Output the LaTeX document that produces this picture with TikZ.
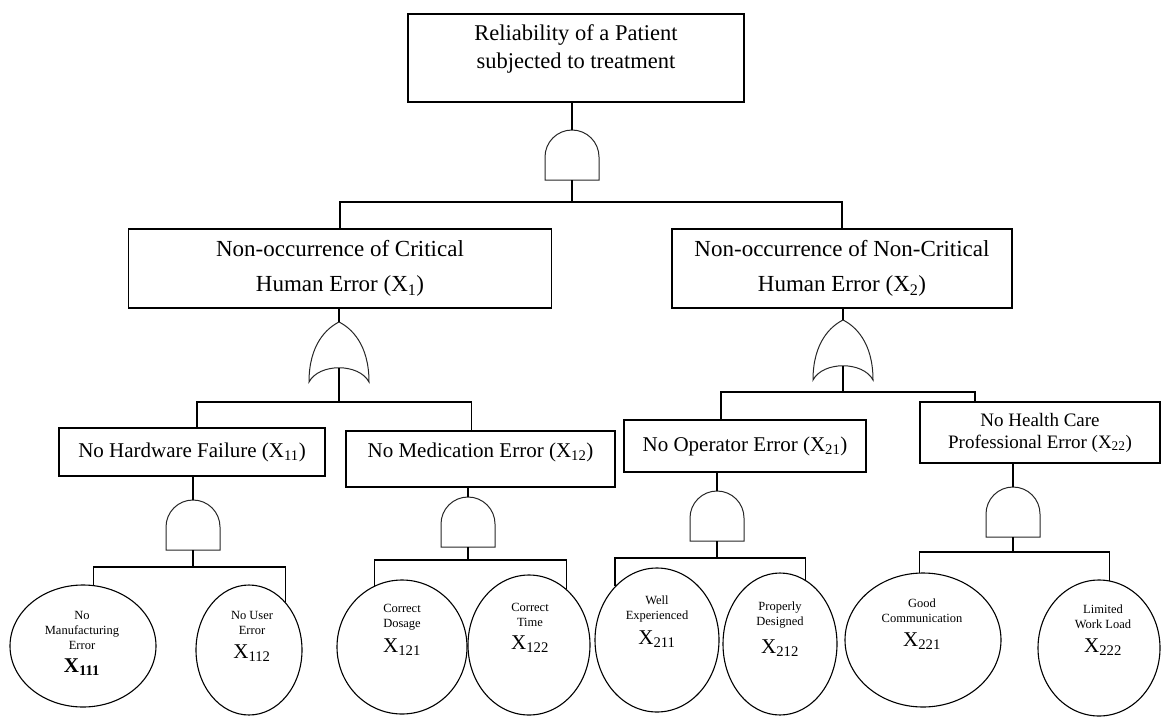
\documentclass[tikz,border=0pt]{standalone}
\usepackage{fontspec}
\setmainfont{Liberation Serif}
\usetikzlibrary{shapes.geometric}

\newcommand\fTop{\fontsize{22.5}{28}\selectfont}
\newcommand\fMid{\fontsize{23}{35}\selectfont}
\newcommand\fLow{\fontsize{21}{24}\selectfont}
\newcommand\fLeaf{\fontsize{12.5}{15}\selectfont}
\newcommand\fSym{\fontsize{21}{21}\selectfont}

\tikzset{
  evbox/.style={draw, line width=1.3pt, inner sep=0pt, align=center},
  basicev/.style={draw, ellipse, line width=1.1pt, inner sep=0pt},
  leaftext/.style={font=\fLeaf, align=center, inner sep=0pt},
  wire/.style={line width=1.1pt},
  gateline/.style={line width=1pt, black!85},
  andgate/.pic={
    \draw[gateline] (-27pt,-50pt) -- (-27pt,-27pt)
      arc[start angle=180, end angle=0, radius=27pt] -- (27pt,-50pt) -- cycle;
    \coordinate (-top) at (0pt,0pt);
    \coordinate (-bot) at (0pt,-50pt);
  },
  orgate/.pic={
    \draw[gateline] (0pt,0pt) .. controls (12pt,-6pt) and (30pt,-22pt) .. (30pt,-60pt)
      .. controls (20pt,-41pt) and (-20pt,-41pt) .. (-30pt,-60pt)
      .. controls (-30pt,-22pt) and (-12pt,-6pt) .. (0pt,0pt) -- cycle;
    \coordinate (-top) at (0pt,0pt);
    \coordinate (-bot) at (0pt,-46pt);
  }
}

\begin{document}
\begin{tikzpicture}[x=1pt,y=1pt]
\useasboundingbox (0,0) rectangle (1161,-717);

  %% top event
  \node[evbox, minimum width=336pt, minimum height=88pt] (top) at (576,-58) {};
  \node[font=\fTop, align=center] (toptext) at (576,-49)
    {Reliability of a Patient\\subjected to treatment};
  \pic (g0) at (572,-130) {andgate};

  %% second level
  \node[evbox, font=\fMid, minimum width=423pt, minimum height=79pt] (n1) at (340,-268.5)
    {Non-occurrence of Critical\\Human Error (X\textsubscript{1})};
  \node[evbox, font=\fMid, minimum width=340pt, minimum height=79pt] (n2) at (842,-268.5)
    {Non-occurrence of Non-Critical\\Human Error (X\textsubscript{2})};
  \pic (or1) at (339,-322) {orgate};
  \pic (or2) at (843,-320) {orgate};

  %% third level
  \node[evbox, font=\fLow, minimum width=266pt, minimum height=48pt] (n11) at (192,-452)
    {No Hardware Failure (X\textsubscript{11})};
  \node[evbox, font=\fLow, minimum width=269pt, text height=26pt, text depth=30pt] (n12) at (480.5,-459)
    {No Medication Error (X\textsubscript{12})};
  \node[evbox, font=\fLow, minimum width=242pt, minimum height=52pt] (n21) at (745,-446)
    {No Operator Error (X\textsubscript{21})};
  \node[evbox, font=\fontsize{19}{22}\selectfont, minimum width=240pt, minimum height=61pt] (n22) at (1040,-432.5)
    {No Health Care\\Professional Error (X\textsubscript{22})};
  \pic (ga) at (193,-500) {andgate};
  \pic (gb) at (468,-497) {andgate};
  \pic (gc) at (717,-491) {andgate};
  \pic (gd) at (1013,-487) {andgate};

  %% basic events
  \node[basicev, minimum width=146pt, minimum height=122pt] (e111) at (83,-646) {};
  \node[basicev, minimum width=106pt, minimum height=130pt] (e112) at (249,-650) {};
  \node[basicev, minimum width=130pt, minimum height=134pt] (e121) at (402,-647) {};
  \node[basicev, minimum width=122pt, minimum height=140pt] (e122) at (529,-645) {};
  \node[basicev, minimum width=124pt, minimum height=144pt] (e211) at (657,-640) {};
  \node[basicev, minimum width=114pt, minimum height=142pt] (e212) at (780,-644) {};
  \node[basicev, minimum width=156pt, minimum height=134pt] (e221) at (923,-640) {};
  \node[basicev, minimum width=122pt, minimum height=136pt] (e222) at (1099,-648) {};

  \node[leaftext] (t111) at (82,-643) {No\\Manufacturing\\Error\\[8pt]{\fSym\textbf{X\textsubscript{111}}}};
  \node[leaftext] (t112) at (252,-636) {No User\\Error\\[9pt]{\fSym X\textsubscript{112}}};
  \node[leaftext] (t121) at (402,-630) {Correct\\Dosage\\[8pt]{\fSym X\textsubscript{121}}};
  \node[leaftext] (t122) at (530,-627.5) {Correct\\Time\\[8pt]{\fSym X\textsubscript{122}}};
  \node[leaftext] (t211) at (657,-621.5) {Well\\Experienced\\[8pt]{\fSym X\textsubscript{211}}};
  \node[leaftext] (t212) at (780,-629) {Properly\\Designed\\[11pt]{\fSym X\textsubscript{212}}};
  \node[leaftext] (t221) at (922,-624) {Good\\Communication\\[9pt]{\fSym X\textsubscript{221}}};
  \node[leaftext] (t222) at (1103,-630.5) {Limited\\Work Load\\[9pt]{\fSym X\textsubscript{222}}};

  %% connectors
  \draw[wire] (g0-top) -- (g0-top |- top.south);
  \draw[wire] (g0-bot) -- ++(0,-22) coordinate (j0);
  \draw[wire] (n1) |- (j0) -| (n2);

  \draw[wire] (or1-top) -- (or1-top |- n1.south);
  \draw[wire] (or2-top) -- (or2-top |- n2.south);
  \draw[wire] (or1-bot) -- ++(0,-34) coordinate (j1);
  \draw[wire] (or2-bot) -- ++(0,-26) coordinate (j2);
  \draw[wire] ([xshift=5pt]n11.north) |- (j1) -| ([xshift=-9pt]n12.north);
  \draw[wire] ([xshift=-24pt]n21.north) |- (j2) -| ([xshift=-65pt]n22.north);

  \draw[wire] (ga-top) -- (ga-top |- n11.south);
  \draw[wire] (gb-top) -- (gb-top |- n12.south);
  \draw[wire] (gc-top) -- (gc-top |- n21.south);
  \draw[wire] (gd-top) -- (gd-top |- n22.south);
  \draw[wire] (ga-bot) -- ++(0,-17) coordinate (ja);
  \draw[wire] (gb-bot) -- ++(0,-13) coordinate (jb);
  \draw[wire] (gc-bot) -- ++(0,-17) coordinate (jc);
  \draw[wire] (gd-bot) -- ++(0,-15) coordinate (jd);
  \draw[wire] (e111.80) |- (ja) -| (e112.53);
  \draw[wire] (e121.114) |- (jb) -| (e122.56);
  \draw[wire] (e211.128) |- (jc) -| (e212.68);
  \draw[wire] (e221.93) |- (jd) -| (e222.81);

\end{tikzpicture}
\end{document}
